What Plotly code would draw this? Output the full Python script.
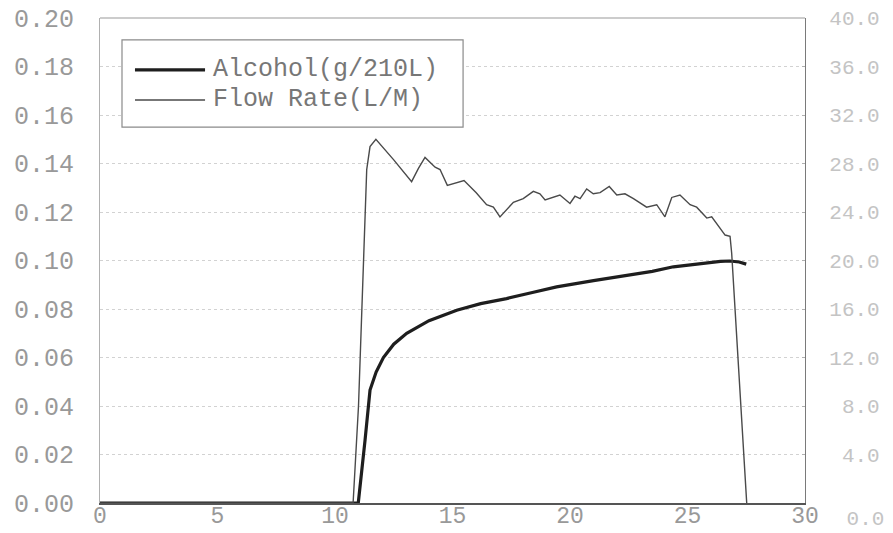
import plotly.graph_objects as go

# Alcohol (g/210L), left axis
alc_x = [0, 5, 10, 10.99, 11.28, 11.49, 11.75, 12.06, 12.5, 13.05, 14.0, 15.18, 16.2, 17.3, 18.4, 19.43, 21.0, 22.55, 23.5, 24.4, 25.6, 26.4, 26.8, 27.2, 27.5]
alc_y = [0, 0, 0, 0, 0.026, 0.0466, 0.054, 0.060, 0.0655, 0.070, 0.0752, 0.0795, 0.0822, 0.0843, 0.0868, 0.0891, 0.0917, 0.094, 0.0955, 0.0974, 0.0988, 0.0996, 0.0998, 0.0994, 0.0985]

# Flow rate (L/M), right axis
flow_x = [0, 5, 10, 10.77, 11.0, 11.18, 11.35, 11.49, 11.74, 12.5, 13.26, 13.55, 13.83, 14.26, 14.47, 14.78, 15.11, 15.49, 16.0, 16.45, 16.74, 17.02,
          17.59, 18.01, 18.44, 18.72, 18.94, 19.57, 20.0, 20.21, 20.43, 20.71, 20.99, 21.28, 21.67, 21.99, 22.34, 22.70, 23.26, 23.69,
          24.04, 24.33, 24.68, 25.11, 25.39, 25.82, 26.03, 26.6, 26.81, 26.88, 27.52]
flow_y = [0, 0, 0, 0, 8.0, 18.4, 27.5, 29.4, 30.0, 28.3, 26.5, 27.6, 28.5, 27.7, 27.5, 26.2, 26.4, 26.6, 25.6, 24.6, 24.4, 23.6,
          24.8, 25.1, 25.7, 25.5, 25.0, 25.4, 24.7, 25.3, 25.1, 25.9, 25.5, 25.6, 26.1, 25.4, 25.5, 25.1, 24.4, 24.6,
          23.6, 25.2, 25.4, 24.6, 24.4, 23.5, 23.6, 22.1, 22.0, 20.6, 0]

x_ticks = [0, 5, 10, 15, 20, 25, 30]
left_ticks = [0.00, 0.02, 0.04, 0.06, 0.08, 0.10, 0.12, 0.14, 0.16, 0.18, 0.20]
right_ticks = [4, 8, 12, 16, 20, 24, 28, 32, 36, 40]
right_zero_label = "0.0"
legend_names = ["Alcohol(g/210L)", "Flow Rate(L/M)"]

FONT = "Liberation Mono"
NB = "\u00a0"

fig = go.Figure()
fig.add_trace(go.Scatter(x=flow_x, y=flow_y, mode="lines", name=legend_names[1], yaxis="y2",
                         line=dict(color="#4a4a4a", width=1.4), showlegend=False))
fig.add_trace(go.Scatter(x=alc_x, y=alc_y, mode="lines", name=legend_names[0], yaxis="y",
                         line=dict(color="#1e1e1e", width=3.2), showlegend=False))

# page body has an 8px margin: figure sized/offset so the plot sits where the reference's does
fig.update_layout(
    width=885, height=525,
    margin=dict(l=92, r=88, t=10, b=30, autoexpand=False),
    paper_bgcolor="white", plot_bgcolor="white",
    font=dict(family=FONT, size=24, color="#999999"),
    xaxis=dict(range=[0, 30], tickvals=x_ticks, ticktext=[str(v) for v in x_ticks],
               showgrid=False, zeroline=False, showline=True, linecolor="#555", linewidth=1.5,
               ticks="", ticklabelstandoff=-9, automargin=False, ticklabeloverflow="allow",
               tickfont=dict(color="#999999", size=23)),
    yaxis=dict(range=[0, 0.2], tickvals=left_ticks, ticktext=[f"{v:.2f}" for v in left_ticks],
               showgrid=True, gridcolor="#d2d2d2", griddash="dot", gridwidth=1,
               zeroline=False, showline=True, linecolor="#b0b0b0", linewidth=1,
               ticks="", ticklabelstandoff=20, automargin=False, ticklabeloverflow="allow",
               tickfont=dict(color="#999999", size=25)),
    yaxis2=dict(range=[0, 40], overlaying="y", side="right", tickvals=right_ticks,
                ticktext=[f"{v:.1f}".rjust(4, NB) for v in right_ticks], showgrid=False, zeroline=False,
                showline=True, linecolor="#7a7a7a", linewidth=1.2, ticks="inside", ticklen=3,
                tickcolor="#b0b0b0", ticklabelstandoff=19, automargin=False, ticklabeloverflow="allow",
                tickfont=dict(color="#c4c4c4", size=21)),
    showlegend=False,
)

# right-axis zero label sits lower, on the x-label row, as in the reference
fig.add_annotation(xref="paper", yref="paper", x=1.0383, y=-0.033, text=right_zero_label.rjust(4, NB),
                   showarrow=False, xanchor="left", yanchor="middle",
                   font=dict(family=FONT, size=21, color="#c4c4c4"))

# top frame line
fig.add_shape(type="line", xref="paper", yref="paper", x0=0, x1=1, y0=1, y1=1,
              line=dict(color="#999999", width=1))

# custom legend box
fig.add_shape(type="rect", xref="paper", yref="paper", x0=0.0312, x1=0.515, y0=0.775, y1=0.955,
              line=dict(color="#8a8a8a", width=1.2), fillcolor="white")
rows = [(0.893, "#1e1e1e", 3.2), (0.831, "#4a4a4a", 1.4)]
for (yy, col, w), name in zip(rows, legend_names):
    fig.add_shape(type="line", xref="paper", yref="paper", x0=0.0496, x1=0.149, y0=yy, y1=yy,
                  line=dict(color=col, width=w))
    fig.add_annotation(xref="paper", yref="paper", x=0.158, y=yy, text=name, showarrow=False,
                       xanchor="left", yanchor="middle", font=dict(family=FONT, size=25, color="#777777"))

fig.write_html("out.html")
